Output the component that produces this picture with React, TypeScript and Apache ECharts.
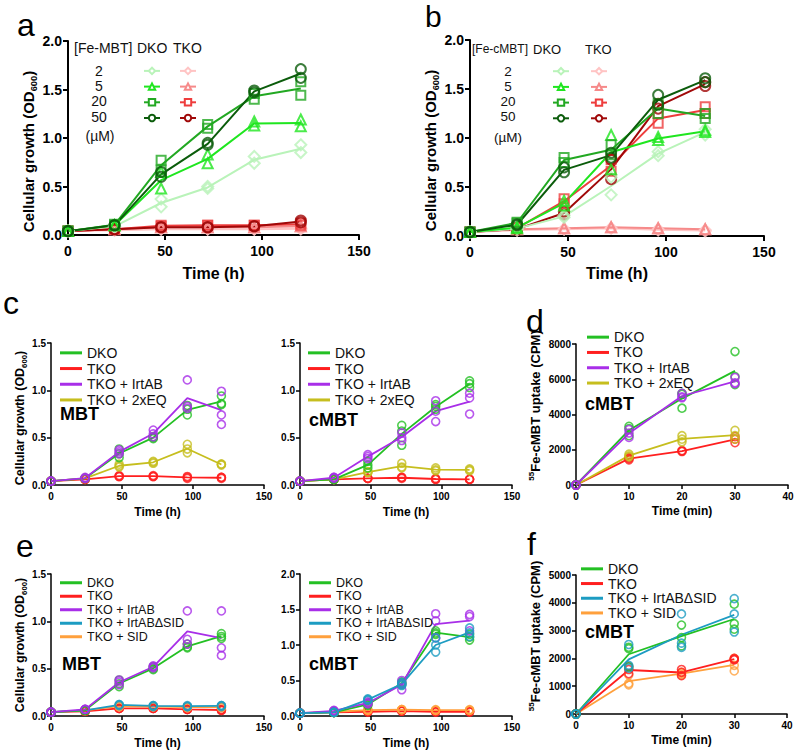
import React, { useEffect, useRef } from 'react';
import * as echarts from 'echarts';

// ---------- shared axes values ----------
const HOURS = [0, 24, 48, 72, 96, 120];
const MINUTES = [0, 10, 20, 30];
const CONC_LABELS = ['2', '5', '20', '50'];

// ---------- panel a : Fe-MBT (replicates of OD600 per time point) ----------
const A_DKO_2 = [[0.04, 0.04], [0.09, 0.09], [0.37, 0.29], [0.5, 0.48], [0.81, 0.74], [0.93, 0.85]];
const A_DKO_5 = [[0.04, 0.04], [0.1, 0.1], [0.65, 0.48], [0.83, 0.74], [1.17, 1.13], [1.19, 1.12]];
const A_DKO_20 = [[0.04, 0.04], [0.11, 0.1], [0.77, 0.67], [1.14, 1.1], [1.46, 1.4], [1.58, 1.44]];
const A_DKO_50 = [[0.04, 0.04], [0.1, 0.1], [0.65, 0.6], [0.95, 0.93], [1.49, 1.47], [1.71, 1.62]];
const A_TKO_2 = [[0.04, 0.04], [0.05, 0.05], [0.06, 0.06], [0.06, 0.06], [0.06, 0.06], [0.07, 0.06]];
const A_TKO_5 = [[0.04, 0.04], [0.06, 0.06], [0.08, 0.08], [0.08, 0.08], [0.08, 0.08], [0.09, 0.09]];
const A_TKO_20 = [[0.04, 0.04], [0.06, 0.06], [0.1, 0.09], [0.1, 0.1], [0.1, 0.1], [0.12, 0.1]];
const A_TKO_50 = [[0.04, 0.04], [0.06, 0.06], [0.08, 0.08], [0.08, 0.08], [0.09, 0.09], [0.15, 0.13]];

// ---------- panel b : Fe-cMBT ----------
const B_DKO_2 = [[0.04, 0.04], [0.08, 0.07], [0.21, 0.19], [0.6, 0.42], [0.86, 0.82], [1.09, 1.03]];
const B_DKO_5 = [[0.04, 0.04], [0.09, 0.08], [0.36, 0.31], [1.03, 0.68], [1.01, 0.98], [1.08, 1.06]];
const B_DKO_20 = [[0.04, 0.04], [0.14, 0.13], [0.8, 0.75], [0.93, 0.83], [1.35, 1.25], [1.25, 1.2]];
const B_DKO_50 = [[0.04, 0.04], [0.12, 0.11], [0.7, 0.65], [0.85, 0.8], [1.44, 1.34], [1.61, 1.57]];
const B_TKO_2 = [[0.04, 0.04], [0.06, 0.06], [0.07, 0.07], [0.08, 0.08], [0.07, 0.06], [0.06, 0.05]];
const B_TKO_5 = [[0.04, 0.04], [0.07, 0.07], [0.08, 0.08], [0.09, 0.09], [0.08, 0.08], [0.07, 0.07]];
const B_TKO_20 = [[0.04, 0.04], [0.08, 0.08], [0.38, 0.33], [0.78, 0.66], [1.25, 1.15], [1.32, 1.25]];
const B_TKO_50 = [[0.04, 0.04], [0.07, 0.07], [0.25, 0.22], [0.78, 0.58], [1.35, 1.3], [1.57, 1.53]];

// ---------- panel c, left : MBT ----------
const C1_DKO = [[0.04, 0.04, 0.04], [0.07, 0.07, 0.07], [0.38, 0.33, 0.29], [0.51, 0.5, 0.49], [0.84, 0.8, 0.74], [0.94, 0.86, 0.85]];
const C1_TKO = [[0.04, 0.04, 0.04], [0.06, 0.06, 0.06], [0.1, 0.09, 0.09], [0.1, 0.09, 0.09], [0.09, 0.08, 0.07], [0.08, 0.08, 0.07]];
const C1_IRTAB = [[0.04, 0.04, 0.04], [0.08, 0.07, 0.07], [0.37, 0.35, 0.33], [0.58, 0.54, 0.51], [1.11, 0.83, 0.81], [0.99, 0.74, 0.64]];
const C1_EQ = [[0.04, 0.04, 0.04], [0.07, 0.07, 0.07], [0.22, 0.2, 0.19], [0.25, 0.24, 0.23], [0.43, 0.38, 0.34], [0.22, 0.22, 0.21]];

// ---------- panel c, right : cMBT ----------
const C2_DKO = [[0.04, 0.04, 0.04], [0.06, 0.06, 0.06], [0.25, 0.21, 0.18], [0.63, 0.57, 0.42], [0.85, 0.83, 0.8], [1.1, 1.07, 1.03]];
const C2_TKO = [[0.04, 0.04, 0.04], [0.06, 0.06, 0.06], [0.07, 0.07, 0.07], [0.08, 0.08, 0.07], [0.07, 0.06, 0.06], [0.06, 0.06, 0.06]];
const C2_IRTAB = [[0.04, 0.04, 0.04], [0.08, 0.08, 0.07], [0.32, 0.3, 0.28], [0.55, 0.5, 0.47], [0.89, 0.78, 0.67], [0.97, 0.92, 0.75]];
const C2_EQ = [[0.04, 0.04, 0.04], [0.06, 0.06, 0.06], [0.14, 0.14, 0.13], [0.23, 0.19, 0.18], [0.18, 0.16, 0.15], [0.17, 0.16, 0.15]];

// ---------- panel d : 55Fe-cMBT uptake (CPM) ----------
const D_DKO = [[0, 0, 0], [3330, 3200, 2800], [5200, 5150, 4360], [7570, 6150, 5700]];
const D_TKO = [[0, 0, 0], [1550, 1500, 1430], [1950, 1930, 1900], [2750, 2600, 2400]];
const D_IRTAB = [[0, 0, 0], [3150, 2950, 2700], [5200, 5000, 4950], [6100, 5800, 5750]];
const D_EQ = [[0, 0, 0], [1750, 1650, 1600], [2800, 2600, 2450], [3100, 2800, 2600]];

// ---------- panel e, left : MBT ----------
const E1_DKO = [[0.04, 0.04, 0.04], [0.06, 0.06, 0.06], [0.38, 0.34, 0.31], [0.52, 0.5, 0.49], [0.76, 0.73, 0.72], [0.87, 0.84, 0.82]];
const E1_TKO = [[0.04, 0.04, 0.04], [0.05, 0.05, 0.05], [0.08, 0.08, 0.08], [0.08, 0.08, 0.08], [0.07, 0.07, 0.07], [0.07, 0.06, 0.06]];
const E1_IRTAB = [[0.04, 0.04, 0.04], [0.07, 0.07, 0.07], [0.38, 0.36, 0.33], [0.53, 0.52, 0.51], [1.11, 0.81, 0.76], [1.11, 0.72, 0.64]];
const E1_DSID = [[0.04, 0.04, 0.04], [0.06, 0.06, 0.06], [0.12, 0.12, 0.11], [0.11, 0.11, 0.1], [0.11, 0.1, 0.1], [0.11, 0.11, 0.1]];
const E1_SID = [[0.04, 0.04, 0.04], [0.06, 0.06, 0.06], [0.11, 0.1, 0.1], [0.1, 0.1, 0.1], [0.1, 0.09, 0.09], [0.1, 0.09, 0.09]];

// ---------- panel e, right : cMBT ----------
const E2_DKO = [[0.04, 0.04, 0.04], [0.05, 0.05, 0.05], [0.18, 0.16, 0.15], [0.48, 0.46, 0.44], [1.2, 1.17, 1.15], [1.15, 1.11, 1.07]];
const E2_TKO = [[0.04, 0.04, 0.04], [0.05, 0.05, 0.05], [0.06, 0.06, 0.06], [0.07, 0.07, 0.07], [0.06, 0.06, 0.06], [0.06, 0.06, 0.06]];
const E2_IRTAB = [[0.04, 0.04, 0.04], [0.08, 0.07, 0.07], [0.2, 0.18, 0.17], [0.5, 0.45, 0.37], [1.44, 1.34, 1.1], [1.43, 1.4, 1.2]];
const E2_DSID = [[0.04, 0.04, 0.04], [0.05, 0.05, 0.05], [0.24, 0.23, 0.22], [0.47, 0.45, 0.43], [1.1, 1.0, 0.9], [1.24, 1.17, 1.12]];
const E2_SID = [[0.04, 0.04, 0.04], [0.06, 0.06, 0.06], [0.09, 0.08, 0.08], [0.09, 0.09, 0.09], [0.09, 0.08, 0.08], [0.09, 0.08, 0.08]];

// ---------- panel f : 55Fe-cMBT uptake (CPM) ----------
const F_DKO = [[0, 0, 0], [2400, 2350, 1700], [3200, 2750, 2450], [3950, 3250, 3050]];
const F_TKO = [[0, 0, 0], [1700, 1600, 1450], [1600, 1500, 1380], [2000, 1970, 1950]];
const F_DSID = [[0, 0, 0], [2500, 1750, 1650], [3600, 2550, 2400], [4150, 3600, 2950]];
const F_SID = [[0, 0, 0], [1400, 1100, 1050], [1500, 1450, 1400], [2000, 1750, 1550]];

// ---------- styling ----------
const FONT = '"Liberation Sans", Arial, Helvetica, sans-serif';
const C_DKO = ['#b9f3b9', '#1fe61f', '#22a822', '#0b5c0b'];
const C_TKO = ['#ffc4c4', '#f68a8a', '#ee3d3d', '#a00808'];
const SYM_EMPTY = ['emptyDiamond', 'emptyTriangle', 'emptyRect', 'emptyCircle'];
const SYM_FULL = ['diamond', 'triangle', 'rect', 'circle'];
const SYM_SIZE = [11, 10, 9, 10];
const COL = {
  DKO: '#23c023',
  TKO: '#ff1f1f',
  IRTAB: '#a82ee8',
  EQ: '#c6be1e',
  DSID: '#1d9cc2',
  SID: '#ffa03c',
};

const mean = (a: number[]) => a.reduce((s, v) => s + v, 0) / a.length;

function makeSeries(
  name: string,
  times: number[],
  reps: number[][],
  color: string,
  grid: number,
  opt: { lineW: number; symEmpty: string; symFull: string; symSize: number; dotW: number },
) {
  const lineData = times.map((t, i) => [t, mean(reps[i])]);
  const pts: number[][] = [];
  reps.forEach((r, i) => r.forEach((v) => pts.push([times[i], v])));
  return [
    {
      type: 'line',
      name,
      xAxisIndex: grid,
      yAxisIndex: grid,
      data: lineData,
      showSymbol: false,
      symbol: opt.symEmpty,
      color,
      lineStyle: { width: opt.lineW, color },
      itemStyle: { color },
      silent: true,
      z: 2,
    },
    {
      type: 'scatter',
      name: name + ' · replicates',
      xAxisIndex: grid,
      yAxisIndex: grid,
      data: pts,
      symbol: opt.symFull,
      symbolSize: opt.symSize,
      itemStyle: { color: 'rgba(255,255,255,0)', borderColor: color, borderWidth: opt.dotW },
      silent: true,
      z: 3,
    },
  ];
}

const GRIDS = [
  { left: 68, top: 41, width: 291, height: 194 }, // a
  { left: 470, top: 40, width: 294, height: 196 }, // b
  { left: 51, top: 343, width: 213, height: 142 }, // c left
  { left: 300, top: 343, width: 212, height: 142 }, // c right
  { left: 576, top: 344, width: 212, height: 141 }, // d
  { left: 51, top: 574, width: 213, height: 142 }, // e left
  { left: 300, top: 574, width: 212, height: 142 }, // e right
  { left: 576, top: 575, width: 211, height: 139 }, // f
];

function axisBase(big: boolean) {
  const w = big ? 2 : 1.5;
  return {
    axisLine: { show: true, onZero: false, lineStyle: { color: '#000', width: w } },
    axisTick: { show: true, length: big ? 5 : 4, lineStyle: { color: '#000', width: w } },
    splitLine: { show: false },
  };
}

function xAxisDef(grid: number, max: number, interval: number, name: string, big: boolean, nameGap: number) {
  return {
    type: 'value',
    gridIndex: grid,
    min: 0,
    max,
    interval,
    ...axisBase(big),
    axisLabel: { fontFamily: FONT, fontWeight: 'bold', fontSize: big ? 14 : 10, color: '#000', margin: big ? 9 : 6 },
    name,
    nameLocation: 'middle',
    nameGap,
    nameTextStyle: { fontFamily: FONT, fontWeight: 'bold', fontSize: big ? 16 : 12, color: '#000' },
  };
}

function richName(fs: number, kind: 'od' | 'cpm', padding: number[]) {
  return {
    fontFamily: FONT,
    fontWeight: 'bold',
    fontSize: fs,
    color: '#000',
    padding,
    rich: {
      m: { fontFamily: FONT, fontWeight: 'bold', fontSize: fs, color: '#000', lineHeight: fs * 1.3 },
      s: {
        fontFamily: FONT,
        fontWeight: 'bold',
        fontSize: fs * 0.62,
        color: '#000',
        lineHeight: fs * 0.62,
        verticalAlign: kind === 'od' ? 'bottom' : 'top',
      },
    },
  };
}

const OD_NAME = '{m|Cellular growth (OD}{s|600}{m|)}';
const CPM_NAME = '{s|55}{m|Fe-cMBT uptake (CPM)}';

function yAxisDef(
  grid: number,
  max: number,
  interval: number,
  decimals: number,
  big: boolean,
  name: string,
  kind: 'od' | 'cpm',
  fs: number,
  nameGap: number,
  padding: number[],
) {
  return {
    type: 'value',
    gridIndex: grid,
    min: 0,
    max,
    interval,
    ...axisBase(big),
    axisLabel: {
      fontFamily: FONT,
      fontWeight: 'bold',
      fontSize: big ? 14 : 10,
      color: '#000',
      margin: big ? 6 : 5,
      formatter: (v: number) => (decimals ? v.toFixed(decimals) : String(v)),
    },
    name,
    nameLocation: 'middle',
    nameGap,
    nameTextStyle: richName(fs, kind, padding),
  };
}

function txt(text: string, x: number, y: number, fontSize: number, opts: any = {}) {
  return {
    type: 'text',
    x,
    y,
    silent: true,
    style: {
      text,
      fontFamily: FONT,
      fontSize,
      lineHeight: opts.lineHeight,
      fontWeight: opts.bold ? 'bold' : 'normal',
      fill: opts.color || '#111',
      align: opts.align || 'left',
      verticalAlign: 'middle',
    },
  };
}

function buildOption() {
  const series: any[] = [];
  const big = { lineW: 2, dotW: 2 };
  const small = { lineW: 1.8, symEmpty: 'emptyCircle', symFull: 'circle', symSize: 8, dotW: 1.6 };

  const aD = [A_DKO_2, A_DKO_5, A_DKO_20, A_DKO_50];
  const aT = [A_TKO_2, A_TKO_5, A_TKO_20, A_TKO_50];
  const bD = [B_DKO_2, B_DKO_5, B_DKO_20, B_DKO_50];
  const bT = [B_TKO_2, B_TKO_5, B_TKO_20, B_TKO_50];

  const sym = (i: number) => ({ ...big, symEmpty: SYM_EMPTY[i], symFull: SYM_FULL[i], symSize: SYM_SIZE[i] });
  CONC_LABELS.forEach((c, i) => series.push(...makeSeries('a TKO ' + c, HOURS, aT[i], C_TKO[i], 0, sym(i))));
  CONC_LABELS.forEach((c, i) => series.push(...makeSeries('a DKO ' + c, HOURS, aD[i], C_DKO[i], 0, sym(i))));
  CONC_LABELS.forEach((c, i) => series.push(...makeSeries('b TKO ' + c, HOURS, bT[i], C_TKO[i], 1, sym(i))));
  CONC_LABELS.forEach((c, i) => series.push(...makeSeries('b DKO ' + c, HOURS, bD[i], C_DKO[i], 1, sym(i))));

  // c
  series.push(...makeSeries('TKO', HOURS, C1_TKO, COL.TKO, 2, small));
  series.push(...makeSeries('TKO + 2xEQ', HOURS, C1_EQ, COL.EQ, 2, small));
  series.push(...makeSeries('DKO', HOURS, C1_DKO, COL.DKO, 2, small));
  series.push(...makeSeries('TKO + IrtAB', HOURS, C1_IRTAB, COL.IRTAB, 2, small));
  series.push(...makeSeries('TKO', HOURS, C2_TKO, COL.TKO, 3, small));
  series.push(...makeSeries('TKO + 2xEQ', HOURS, C2_EQ, COL.EQ, 3, small));
  series.push(...makeSeries('DKO', HOURS, C2_DKO, COL.DKO, 3, small));
  series.push(...makeSeries('TKO + IrtAB', HOURS, C2_IRTAB, COL.IRTAB, 3, small));
  // d
  series.push(...makeSeries('TKO', MINUTES, D_TKO, COL.TKO, 4, small));
  series.push(...makeSeries('TKO + 2xEQ', MINUTES, D_EQ, COL.EQ, 4, small));
  series.push(...makeSeries('DKO', MINUTES, D_DKO, COL.DKO, 4, small));
  series.push(...makeSeries('TKO + IrtAB', MINUTES, D_IRTAB, COL.IRTAB, 4, small));
  // e
  series.push(...makeSeries('TKO', HOURS, E1_TKO, COL.TKO, 5, small));
  series.push(...makeSeries('TKO + SID', HOURS, E1_SID, COL.SID, 5, small));
  series.push(...makeSeries('TKO + IrtABΔSID', HOURS, E1_DSID, COL.DSID, 5, small));
  series.push(...makeSeries('DKO', HOURS, E1_DKO, COL.DKO, 5, small));
  series.push(...makeSeries('TKO + IrtAB', HOURS, E1_IRTAB, COL.IRTAB, 5, small));
  series.push(...makeSeries('TKO', HOURS, E2_TKO, COL.TKO, 6, small));
  series.push(...makeSeries('TKO + SID', HOURS, E2_SID, COL.SID, 6, small));
  series.push(...makeSeries('DKO', HOURS, E2_DKO, COL.DKO, 6, small));
  series.push(...makeSeries('TKO + IrtAB', HOURS, E2_IRTAB, COL.IRTAB, 6, small));
  series.push(...makeSeries('TKO + IrtABΔSID', HOURS, E2_DSID, COL.DSID, 6, small));
  // f
  series.push(...makeSeries('TKO + SID', MINUTES, F_SID, COL.SID, 7, small));
  series.push(...makeSeries('TKO', MINUTES, F_TKO, COL.TKO, 7, small));
  series.push(...makeSeries('DKO', MINUTES, F_DKO, COL.DKO, 7, small));
  series.push(...makeSeries('TKO + IrtABΔSID', MINUTES, F_DSID, COL.DSID, 7, small));

  const xAxis = [
    xAxisDef(0, 150, 50, 'Time (h)', true, 30),
    xAxisDef(1, 150, 50, 'Time (h)', true, 29),
    xAxisDef(2, 150, 50, 'Time (h)', false, 21),
    xAxisDef(3, 150, 50, 'Time (h)', false, 21),
    xAxisDef(4, 40, 10, 'Time (min)', false, 20),
    xAxisDef(5, 150, 50, 'Time (h)', false, 21),
    xAxisDef(6, 150, 50, 'Time (h)', false, 21),
    xAxisDef(7, 40, 10, 'Time (min)', false, 20),
  ];
  const yAxis = [
    yAxisDef(0, 2, 0.5, 1, true, OD_NAME, 'od', 15, 28, [0, 27, 0, 0]),
    yAxisDef(1, 2, 0.5, 1, true, OD_NAME, 'od', 15, 30, [0, 25, 0, 0]),
    yAxisDef(2, 1.5, 0.5, 1, false, OD_NAME, 'od', 12.5, 22, [0, 8, 0, 0]),
    yAxisDef(3, 1.5, 0.5, 1, false, '', 'od', 12.5, 22, [0, 0, 0, 0]),
    yAxisDef(4, 8000, 2000, 0, false, CPM_NAME, 'cpm', 13, 32, [0, 0, 0, 18]),
    yAxisDef(5, 1.5, 0.5, 1, false, OD_NAME, 'od', 12.5, 22, [0, 0, 0, 0]),
    yAxisDef(6, 2, 0.5, 1, false, '', 'od', 12.5, 22, [0, 0, 0, 0]),
    yAxisDef(7, 5000, 1000, 0, false, CPM_NAME, 'cpm', 13, 32, [0, 0, 0, 17]),
  ];

  const iconLegend = (names: string[], left: number, top: number) => ({
    orient: 'vertical',
    left,
    top,
    padding: 0,
    itemWidth: 16,
    itemHeight: 8,
    itemGap: 7.3,
    selectedMode: false,
    data: names,
    formatter: () => '',
    textStyle: { fontSize: 8, lineHeight: 8 },
  });
  const textLegend = (names: string[], left: number, top: number, fs: number, lh: number) => ({
    orient: 'vertical',
    left,
    top,
    padding: 0,
    icon: 'rect',
    itemWidth: 22,
    itemHeight: 3,
    itemGap: 0,
    selectedMode: false,
    data: names,
    textStyle: { fontFamily: FONT, fontSize: fs, lineHeight: lh, color: '#111' },
  });

  const cNames = ['DKO', 'TKO', 'TKO + IrtAB', 'TKO + 2xEQ'];
  const eNames = ['DKO', 'TKO', 'TKO + IrtAB', 'TKO + IrtABΔSID', 'TKO + SID'];
  const fNames = ['DKO', 'TKO', 'TKO + IrtABΔSID', 'TKO + SID'];

  const legend = [
    iconLegend(CONC_LABELS.map((c) => 'a DKO ' + c), 143, 66.7),
    iconLegend(CONC_LABELS.map((c) => 'a TKO ' + c), 179, 66.7),
    iconLegend(CONC_LABELS.map((c) => 'b DKO ' + c), 552, 67),
    iconLegend(CONC_LABELS.map((c) => 'b TKO ' + c), 590, 67),
    textLegend(cNames, 60, 345, 14, 15.7),
    textLegend(cNames, 308, 345, 14, 15.7),
    textLegend(cNames, 587, 329.5, 14, 15.3),
    textLegend(eNames, 60, 576, 12.5, 13.5),
    textLegend(eNames, 309, 576, 12.5, 13.5),
    textLegend(fNames, 581, 561.5, 14, 14.7),
  ];

  const rowsA = [70.7, 86, 101, 116.7];
  const rowsB = [71, 86, 101, 116.7];
  const L = { color: '#000', lineHeight: 26 };
  const graphic: any[] = [
    txt('a', 17, 25, 32, L),
    txt('b', 425, 16.5, 30, L),
    txt('c', 3, 303, 32, L),
    txt('d', 526, 321, 32, L),
    txt('e', 16, 546, 32, L),
    txt('f', 527, 544, 32, L),
    txt('[Fe-MBT]', 74, 48, 14),
    txt('DKO', 137, 48, 14),
    txt('TKO', 173, 48, 14),
    ...CONC_LABELS.map((c, i) => txt(c, 99, rowsA[i], 14, { align: 'center' })),
    txt('(µM)', 100, 136, 14, { align: 'center' }),
    txt('[Fe-cMBT]', 472, 49, 12),
    txt('DKO', 533, 49, 13),
    txt('TKO', 585, 49, 13),
    ...CONC_LABELS.map((c, i) => txt(c, 508, rowsB[i], 13.5, { align: 'center' })),
    txt('(µM)', 508, 137, 13.5, { align: 'center' }),
    txt('MBT', 60, 414, 18, { bold: true, color: '#000' }),
    txt('cMBT', 309, 420, 18, { bold: true, color: '#000' }),
    txt('cMBT', 585, 403.5, 18, { bold: true, color: '#000' }),
    txt('MBT', 62, 663.5, 18, { bold: true, color: '#000' }),
    txt('cMBT', 309, 664, 18, { bold: true, color: '#000' }),
    txt('cMBT', 585, 631.5, 18, { bold: true, color: '#000' }),
  ];

  return {
    animation: false,
    backgroundColor: '#fff',
    textStyle: { fontFamily: FONT },
    grid: GRIDS.map((g) => ({ ...g, containLabel: false })),
    xAxis,
    yAxis,
    legend,
    series,
    graphic,
  };
}

export default function App() {
  const ref = useRef<HTMLDivElement>(null);
  useEffect(() => {
    if (!ref.current) return;
    const chart = echarts.init(ref.current, null, { renderer: 'svg' });
    chart.setOption(buildOption() as any);
    return () => chart.dispose();
  }, []);
  return (
    <div
      ref={ref}
      style={{ position: 'absolute', left: 0, top: 0, width: 800, height: 755, background: '#fff' }}
    />
  );
}
